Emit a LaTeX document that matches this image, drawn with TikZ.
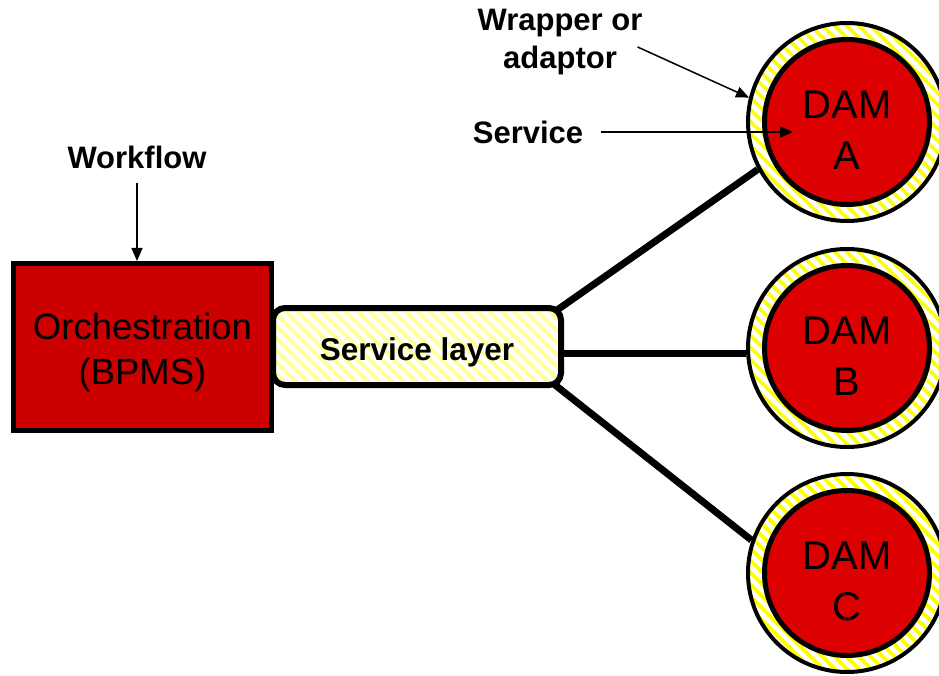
\documentclass[tikz,border=0pt]{standalone}
\usepackage{fontspec}
\setmainfont{Liberation Sans}
\usetikzlibrary{calc,backgrounds,arrows.meta}
\definecolor{boxred}{RGB}{204,0,0}
\definecolor{damred}{RGB}{221,0,0}
\definecolor{paleyel}{RGB}{255,255,160}
\definecolor{ringyel}{RGB}{255,255,0}
\begin{document}
\begin{tikzpicture}[x=1pt,y=-1pt,
  lbl/.style={font=\fontsize{31}{38}\selectfont\bfseries, align=center, inner sep=0},
  conn/.style={line width=7},
  ptr/.style={line width=1.5, -{Triangle[length=13,width=11]}},
  ring/.style={circle, draw, line width=4, minimum size=198, inner sep=0, fill=white,
    path picture={\foreach \k in {-264,-252,...,264}
      \draw[ringyel, line width=3.6] ($(path picture bounding box.center)+(\k-130,-130)$) -- ++(260,260);}},
  core/.style={circle, draw, line width=5, minimum size=165, inner sep=0, fill=damred,
    font=\fontsize{40}{51}\selectfont, align=center},
  orchbox/.style={rectangle, draw, line width=5, fill=boxred, minimum width=258, minimum height=167,
    inner sep=0, font=\fontsize{36.5}{45}\selectfont, align=center},
  layerbox/.style={rectangle, draw, line width=6, rounded corners=12, fill=white,
    minimum width=288, minimum height=77, inner sep=0, font=\fontsize{31.5}{38}\selectfont\bfseries,
    path picture={\foreach \k in {-360,-348,...,360}
      \draw[paleyel, line width=4] ($(path picture bounding box.center)+(\k-60,-60)$) -- ++(120,120);}},
]
\useasboundingbox (0,0) rectangle (939,676);

% nodes
\node[orchbox] (orch) at (142.5,347) {\rule{0pt}{38pt}Orchestration\\(BPMS)};
\node[layerbox] (sl) at (417,346.5) {\rule{0pt}{34pt}Service layer};

\node[ring] (dA) at (847,122) {};
\node[core] (cA) at (847,122) {\rule{0pt}{44pt}DAM\\A};
\node[ring] (dB) at (847,348) {};
\node[core] (cB) at (847,348) {\rule{0pt}{44pt}DAM\\B};
\node[ring] (dC) at (847,573) {};
\node[core] (cC) at (847,573) {\rule{0pt}{44pt}DAM\\C};

\node[lbl] (wf) at (137,157) {Workflow};
\node[lbl] (wr) at (560,42) {Wrapper or\\adaptor};
\node[lbl] (sv) at (528,132) {Service};
\coordinate (svtip) at (793,132);

% connectors
\begin{pgfonlayer}{background}
\draw[conn] ($(sl.north east)+(-14,10)$) -- (dA.208);
\draw[conn] (dB.183 -| sl.center) -- (dB.183);
\draw[conn] ($(sl.south east)+(-14,-7)$) -- (dC.161);
\end{pgfonlayer}

\draw[ptr, shorten <=14] (wf.south) -- (wf.south |- orch.north);
\draw[ptr] ($(wr.east)+(-5,5)$) -- (dA.166);
\draw[ptr, shorten <=18] (sv.east) -- (svtip);
\end{tikzpicture}
\end{document}
